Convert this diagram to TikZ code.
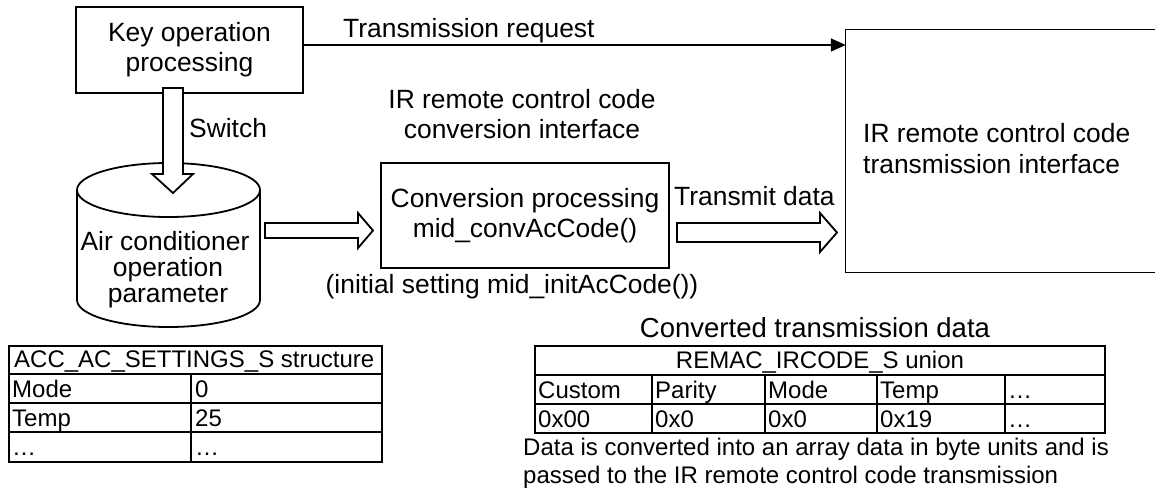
\documentclass[tikz,border=0pt]{standalone}
\usepackage{fontspec}
\setmainfont{Liberation Sans}
\usetikzlibrary{arrows.meta,calc}
\begin{document}
\begin{tikzpicture}[x=1pt,y=-1pt,
  lbl/.style={inner sep=0pt, font=\fontsize{26.4}{30}\selectfont},
  lblb/.style={lbl, anchor=base},
  lblw/.style={lbl, anchor=base west},
  tbl/.style={inner sep=0pt, font=\fontsize{24}{28}\selectfont, anchor=base west},
  boxline/.style={line width=1.3pt},
  cylline/.style={line width=1.8pt},
  tblline/.style={line width=2.8pt},
  blockarrow/.style={line width=1.8pt, fill=white, line join=miter},
  reqarrow/.style={line width=1.5pt, -{Triangle[length=15pt,width=13pt]}}]
\useasboundingbox (0,0) rectangle (1155,491);

% key operation box
\node[lbl, draw, boxline, minimum width=227pt, minimum height=86pt, align=center] (key) at (189.5,50) {Key operation\\processing};

% transmission interface box (right side runs off the page)
\node[minimum width=310pt, minimum height=242pt, inner sep=0pt] (tx) at (1001,151) {};
\draw[boxline] (tx.north east) -- (tx.north west) -- (tx.south west) -- (tx.south east);
\node[lblw] (tx1) at (863,142) {IR remote control code};
\node[lblw] (tx2) at (863,173) {transmission interface};

% transmission request
\coordinate (y45) at (0,45);
\draw[reqarrow] (key.east |- y45) -- (tx.west |- y45);
\node[lblw] (treq) at (343,37) {Transmission request};

% conversion box
\node[lbl, draw, boxline, minimum width=288pt, minimum height=105pt, align=center] (conv) at (525,215.5) {Conversion processing\\mid\_convAcCode()};
\node[lblb] (ci1) at (522,108) {IR remote control code};
\node[lblb] (ci2) at (522,138) {conversion interface};
\node[lblb] (init) at (512,293) {(initial setting mid\_initAcCode())};

% cylinder
\coordinate (cylc) at (168.5,190);
\draw[cylline, fill=white] (77,190) -- (77,300) arc[start angle=180, end angle=360, x radius=91.5, y radius=-27] -- (260,190);
\draw[cylline, fill=white] (cylc) ellipse[x radius=91.5, y radius=27];
\node[lblb] (cyl1) at (165,250) {Air conditioner};
\node[lblb] (cyl2) at (168,276) {operation};
\node[lblb] (cyl3) at (168,302) {parameter};

% switch block arrow
\draw[blockarrow] (163,88) -- (183,88) -- (183,174) -- (193,174) -- (173,193) -- (152,174) -- (163,174) -- cycle;
\node[lblw] (sw) at (189,137) {Switch};

% cylinder -> conversion block arrow
\draw[blockarrow] (265,223) -- (358,223) -- (358,213) -- (373,230.5) -- (358,248) -- (358,238) -- (265,238) -- cycle;

% transmit data block arrow
\draw[blockarrow] (677,223) -- (820,223) -- (820,213) -- (837,232.5) -- (820,252) -- (820,242) -- (677,242) -- cycle;
\node[lblw] (tdata) at (674,205) {Transmit data};

% left table
\draw[tblline] (9,346) rectangle (382,462);
\draw[tblline] (9,374) -- (382,374) (9,403) -- (382,403) (9,432) -- (382,432) (191,374) -- (191,462);
\node[tbl] (lh) at (14,367) {ACC\_AC\_SETTINGS\_S structure};
\node[tbl] (l11) at (12,397) {Mode};
\node[tbl] (l12) at (195,397) {0};
\node[tbl] (l21) at (12,426) {Temp};
\node[tbl] (l22) at (195,426) {25};
\node[tbl] (l31) at (12,455) {…};
\node[tbl] (l32) at (195,455) {…};

% right table
\node[inner sep=0pt, font=\fontsize{27.5}{30}\selectfont, anchor=base] (rtitle) at (815,337) {Converted transmission data};
\draw[tblline] (535,346) rectangle (1105,433);
\draw[tblline] (535,375) -- (1105,375) (535,404) -- (1105,404);
\draw[tblline] (652,375) -- (652,433) (765,375) -- (765,433) (877,375) -- (877,433) (1005,375) -- (1005,433);
\node[tbl, anchor=base] (rh) at (820,368) {REMAC\_IRCODE\_S union};
\node[tbl] (r11) at (538,398) {Custom};
\node[tbl] (r12) at (655,398) {Parity};
\node[tbl] (r13) at (768,398) {Mode};
\node[tbl] (r14) at (880,398) {Temp};
\node[tbl] (r15) at (1008,398) {…};
\node[tbl] (r21) at (538,427) {0x00};
\node[tbl] (r22) at (655,427) {0x0};
\node[tbl] (r23) at (768,427) {0x0};
\node[tbl] (r24) at (880,427) {0x19};
\node[tbl] (r25) at (1008,427) {…};

\node[tbl] (note1) at (523,455) {Data is converted into an array data in byte units and is};
\node[tbl] (note2) at (523,483) {passed to the IR remote control code transmission};
\end{tikzpicture}
\end{document}
